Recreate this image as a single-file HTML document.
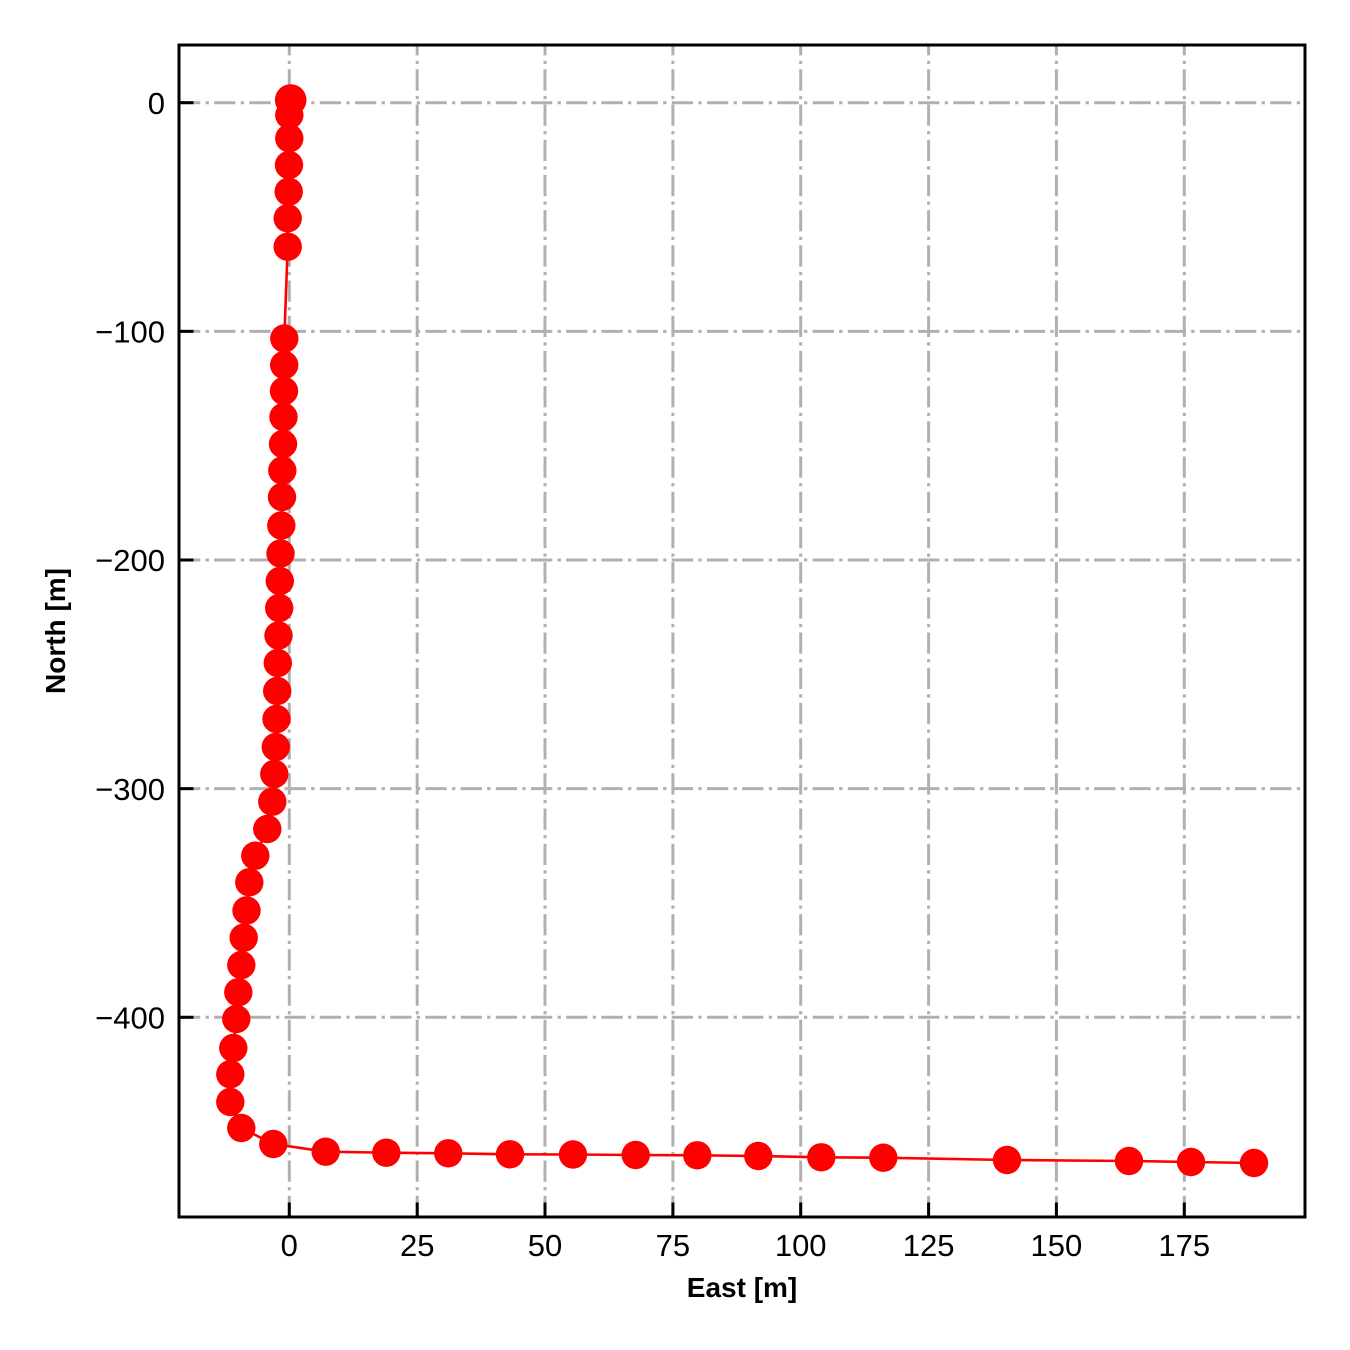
<!DOCTYPE html>
<html>
<head>
<meta charset="utf-8">
<style>
  html, body { margin:0; padding:0; background:#fff; }
  svg { display:block; }
  text { font-family: "Liberation Sans", Arial, sans-serif; fill:#000; }
</style>
</head>
<body>
<svg width="1350" height="1350" viewBox="0 0 1350 1350" xmlns="http://www.w3.org/2000/svg">
  <rect x="0" y="0" width="1350" height="1350" fill="#fff"/>
  <g stroke="#b0b0b0" stroke-width="3" stroke-dasharray="21.3 5.3 3.3 5.3" fill="none">
    <line x1="289.3" y1="1217" x2="289.3" y2="45"/>
    <line x1="417.2" y1="1217" x2="417.2" y2="45"/>
    <line x1="545.0" y1="1217" x2="545.0" y2="45"/>
    <line x1="672.9" y1="1217" x2="672.9" y2="45"/>
    <line x1="800.7" y1="1217" x2="800.7" y2="45"/>
    <line x1="928.6" y1="1217" x2="928.6" y2="45"/>
    <line x1="1056.4" y1="1217" x2="1056.4" y2="45"/>
    <line x1="1184.3" y1="1217" x2="1184.3" y2="45"/>
    <line x1="179" y1="102.7" x2="1305" y2="102.7"/>
    <line x1="179" y1="331.35" x2="1305" y2="331.35"/>
    <line x1="179" y1="560.0" x2="1305" y2="560.0"/>
    <line x1="179" y1="788.65" x2="1305" y2="788.65"/>
    <line x1="179" y1="1017.3" x2="1305" y2="1017.3"/>
  </g>
  <polyline fill="none" stroke="#ff0000" stroke-width="2.6" stroke-linejoin="round"
    points="290.7,100 289.3,115 289.3,138.3 289,165 288.7,191.7 287.7,218.3 287.7,246.7 284.3,338.5 284.2,365 284,391 283.5,417 283,444 282.3,470.5 282,497 281.3,525.5 280.5,553.5 279.8,581 279.2,608 278.5,635.5 277.8,663 277.2,691 276.5,719 275.8,747 274.3,774 272.3,801.7 267.3,829 255.3,855.7 249.3,882.3 246.5,910.5 243.7,937.7 241.3,965 238.3,992.3 236.3,1019 233.3,1048 230.3,1074.3 230.3,1102 241.3,1128 273.3,1144 325.7,1151.7 386.3,1152.7 448.3,1153.3 510,1154.3 573,1154.5 635.7,1155 697.3,1155.3 758.3,1156 821.3,1157.3 883.3,1157.7 1007,1160 1129,1161 1191,1162 1254,1163"/>
  <g fill="#ff0000">
    <circle cx="290.7" cy="100" r="15.8"/>
    <circle cx="289.3" cy="115" r="14.2"/>
    <circle cx="289.3" cy="138.3" r="14.2"/>
    <circle cx="289" cy="165" r="14.2"/>
    <circle cx="288.7" cy="191.7" r="14.2"/>
    <circle cx="287.7" cy="218.3" r="14.2"/>
    <circle cx="287.7" cy="246.7" r="14.2"/>
    <circle cx="284.3" cy="338.5" r="14.2"/>
    <circle cx="284.2" cy="365" r="14.2"/>
    <circle cx="284" cy="391" r="14.2"/>
    <circle cx="283.5" cy="417" r="14.2"/>
    <circle cx="283" cy="444" r="14.2"/>
    <circle cx="282.3" cy="470.5" r="14.2"/>
    <circle cx="282" cy="497" r="14.2"/>
    <circle cx="281.3" cy="525.5" r="14.2"/>
    <circle cx="280.5" cy="553.5" r="14.2"/>
    <circle cx="279.8" cy="581" r="14.2"/>
    <circle cx="279.2" cy="608" r="14.2"/>
    <circle cx="278.5" cy="635.5" r="14.2"/>
    <circle cx="277.8" cy="663" r="14.2"/>
    <circle cx="277.2" cy="691" r="14.2"/>
    <circle cx="276.5" cy="719" r="14.2"/>
    <circle cx="275.8" cy="747" r="14.2"/>
    <circle cx="274.3" cy="774" r="14.2"/>
    <circle cx="272.3" cy="801.7" r="14.2"/>
    <circle cx="267.3" cy="829" r="14.2"/>
    <circle cx="255.3" cy="855.7" r="14.2"/>
    <circle cx="249.3" cy="882.3" r="14.2"/>
    <circle cx="246.5" cy="910.5" r="14.2"/>
    <circle cx="243.7" cy="937.7" r="14.2"/>
    <circle cx="241.3" cy="965" r="14.2"/>
    <circle cx="238.3" cy="992.3" r="14.2"/>
    <circle cx="236.3" cy="1019" r="14.2"/>
    <circle cx="233.3" cy="1048" r="14.2"/>
    <circle cx="230.3" cy="1074.3" r="14.2"/>
    <circle cx="230.3" cy="1102" r="14.2"/>
    <circle cx="241.3" cy="1128" r="14.2"/>
    <circle cx="273.3" cy="1144" r="14.2"/>
    <circle cx="325.7" cy="1151.7" r="14.2"/>
    <circle cx="386.3" cy="1152.7" r="14.2"/>
    <circle cx="448.3" cy="1153.3" r="14.2"/>
    <circle cx="510" cy="1154.3" r="14.2"/>
    <circle cx="573" cy="1154.5" r="14.2"/>
    <circle cx="635.7" cy="1155" r="14.2"/>
    <circle cx="697.3" cy="1155.3" r="14.2"/>
    <circle cx="758.3" cy="1156" r="14.2"/>
    <circle cx="821.3" cy="1157.3" r="14.2"/>
    <circle cx="883.3" cy="1157.7" r="14.2"/>
    <circle cx="1007" cy="1160" r="14.2"/>
    <circle cx="1129" cy="1161" r="14.2"/>
    <circle cx="1191" cy="1162" r="14.2"/>
    <circle cx="1254" cy="1163" r="14.2"/>
  </g>
  <g stroke="#000" stroke-width="3">
    <line x1="289.3" y1="1217" x2="289.3" y2="1202.5"/>
    <line x1="417.2" y1="1217" x2="417.2" y2="1202.5"/>
    <line x1="545.0" y1="1217" x2="545.0" y2="1202.5"/>
    <line x1="672.9" y1="1217" x2="672.9" y2="1202.5"/>
    <line x1="800.7" y1="1217" x2="800.7" y2="1202.5"/>
    <line x1="928.6" y1="1217" x2="928.6" y2="1202.5"/>
    <line x1="1056.4" y1="1217" x2="1056.4" y2="1202.5"/>
    <line x1="1184.3" y1="1217" x2="1184.3" y2="1202.5"/>
    <line x1="179" y1="102.7" x2="193.5" y2="102.7"/>
    <line x1="179" y1="331.35" x2="193.5" y2="331.35"/>
    <line x1="179" y1="560.0" x2="193.5" y2="560.0"/>
    <line x1="179" y1="788.65" x2="193.5" y2="788.65"/>
    <line x1="179" y1="1017.3" x2="193.5" y2="1017.3"/>
  </g>
  <rect x="179" y="45" width="1126" height="1172" fill="none" stroke="#000" stroke-width="3"/>
  <g font-size="31" text-anchor="middle">
    <text x="289.3" y="1256">0</text>
    <text x="417.2" y="1256">25</text>
    <text x="545.0" y="1256">50</text>
    <text x="672.9" y="1256">75</text>
    <text x="800.7" y="1256">100</text>
    <text x="928.6" y="1256">125</text>
    <text x="1056.4" y="1256">150</text>
    <text x="1184.3" y="1256">175</text>
  </g>
  <g font-size="31" text-anchor="end">
    <text x="165" y="113.8">0</text>
    <text x="165" y="342.5">−100</text>
    <text x="165" y="571.1">−200</text>
    <text x="165" y="799.8">−300</text>
    <text x="165" y="1028.4">−400</text>
  </g>
  <text x="742" y="1297" font-size="28" font-weight="bold" text-anchor="middle">East [m]</text>
  <text transform="translate(65,631) rotate(-90)" font-size="28" font-weight="bold" text-anchor="middle">North [m]</text>
</svg>
</body>
</html>
